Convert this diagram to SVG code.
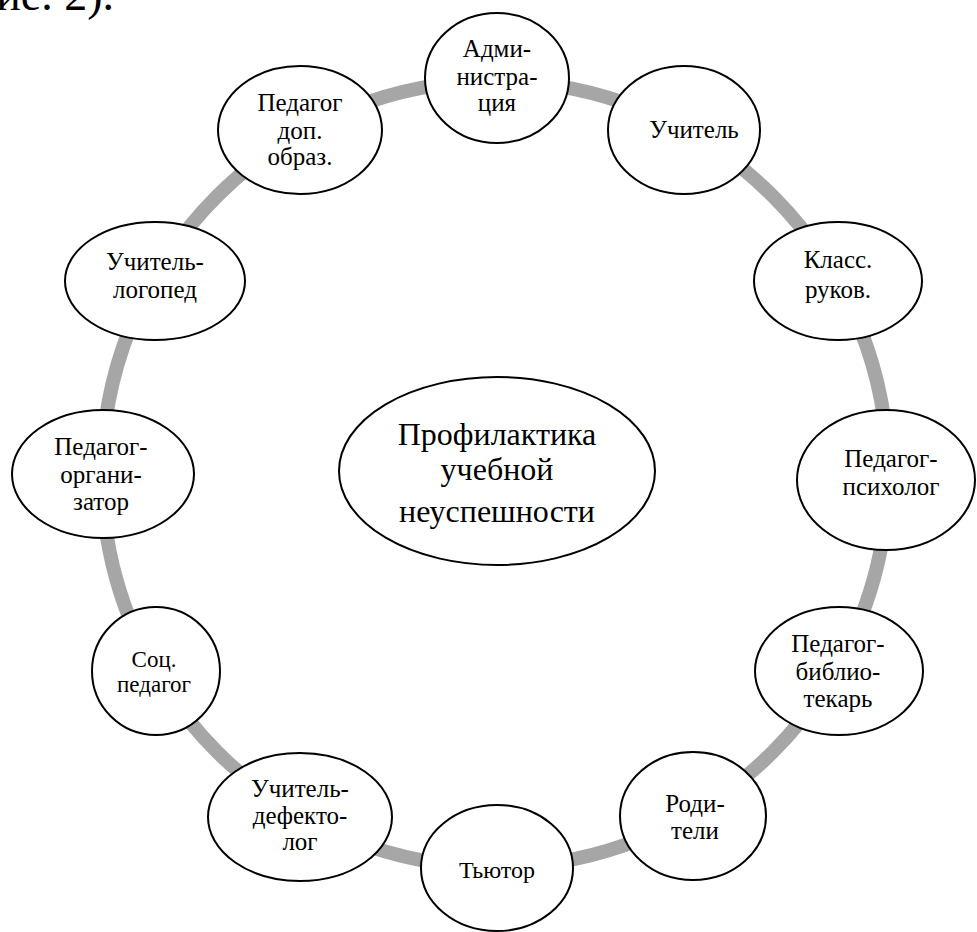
<svg xmlns="http://www.w3.org/2000/svg" width="977" height="932" viewBox="0 0 977 932" font-family="'Liberation Serif', 'DejaVu Serif', serif">
<style>
.n{fill:#fff;stroke:#000;stroke-width:2}
.t{font-size:25px;text-anchor:middle;fill:#000}
.c{font-size:32px}
</style>
<rect width="977" height="932" fill="#fff"/>
<text x="114" y="10" font-size="46" text-anchor="end">ние. 2).</text>
<g id="connectors">
<circle cx="495" cy="474" r="393" fill="none" stroke="#a6a6a6" stroke-width="14"/>
</g>
<g id="center"><ellipse class="n" cx="497" cy="471" rx="158" ry="94"/>
<text class="t c" x="497" y="445">Профилактика</text><text class="t c" x="497" y="480">учебной</text><text class="t c" x="497" y="522">неуспешности</text></g>
<g id="adm"><ellipse class="n" cx="497" cy="78" rx="72" ry="65"/>
<text class="t" x="497" y="57">Адми-</text><text class="t" x="497" y="85">нистра-</text><text class="t" x="497" y="111">ция</text></g>
<g id="uchitel"><ellipse class="n" cx="684" cy="130" rx="76" ry="64"/>
<text class="t" x="694" y="138">Учитель</text></g>
<g id="klass"><ellipse class="n" cx="838" cy="281" rx="84" ry="59"/>
<text class="t" x="838" y="268">Класс.</text><text class="t" x="838" y="298">руков.</text></g>
<g id="psych"><ellipse class="n" cx="886" cy="480" rx="89" ry="70"/>
<text class="t" x="891" y="467">Педагог-</text><text class="t" x="891" y="495">психолог</text></g>
<g id="bibl"><ellipse class="n" cx="839" cy="671" rx="84" ry="64"/>
<text class="t" x="838" y="652">Педагог-</text><text class="t" x="838" y="680">библио-</text><text class="t" x="838" y="707">текарь</text></g>
<g id="roditeli"><ellipse class="n" cx="693" cy="816" rx="73" ry="64"/>
<text class="t" x="695" y="812">Роди-</text><text class="t" x="695" y="839">тели</text></g>
<g id="tutor"><ellipse class="n" cx="497" cy="868" rx="76" ry="63"/>
<text class="t" x="497" y="878" style="font-size:24px">Тьютор</text></g>
<g id="defekt"><ellipse class="n" cx="300" cy="817" rx="92" ry="64"/>
<text class="t" x="300" y="797">Учитель-</text><text class="t" x="300" y="824">дефекто-</text><text class="t" x="300" y="850">лог</text></g>
<g id="soc"><ellipse class="n" cx="156" cy="671" rx="64" ry="64"/>
<text class="t" x="154" y="667" style="font-size:23px">Соц.</text><text class="t" x="154" y="692" style="font-size:23px">педагог</text></g>
<g id="org"><ellipse class="n" cx="103" cy="474" rx="91" ry="64"/>
<text class="t" x="101" y="455">Педагог-</text><text class="t" x="101" y="483">органи-</text><text class="t" x="101" y="510">затор</text></g>
<g id="logoped"><ellipse class="n" cx="155" cy="281" rx="90" ry="59"/>
<text class="t" x="155" y="270">Учитель-</text><text class="t" x="155" y="298">логопед</text></g>
<g id="peddop"><ellipse class="n" cx="300" cy="130" rx="82" ry="64"/>
<text class="t" x="300" y="111">Педагог</text><text class="t" x="300" y="139">доп.</text><text class="t" x="300" y="165">образ.</text></g>
</svg>
